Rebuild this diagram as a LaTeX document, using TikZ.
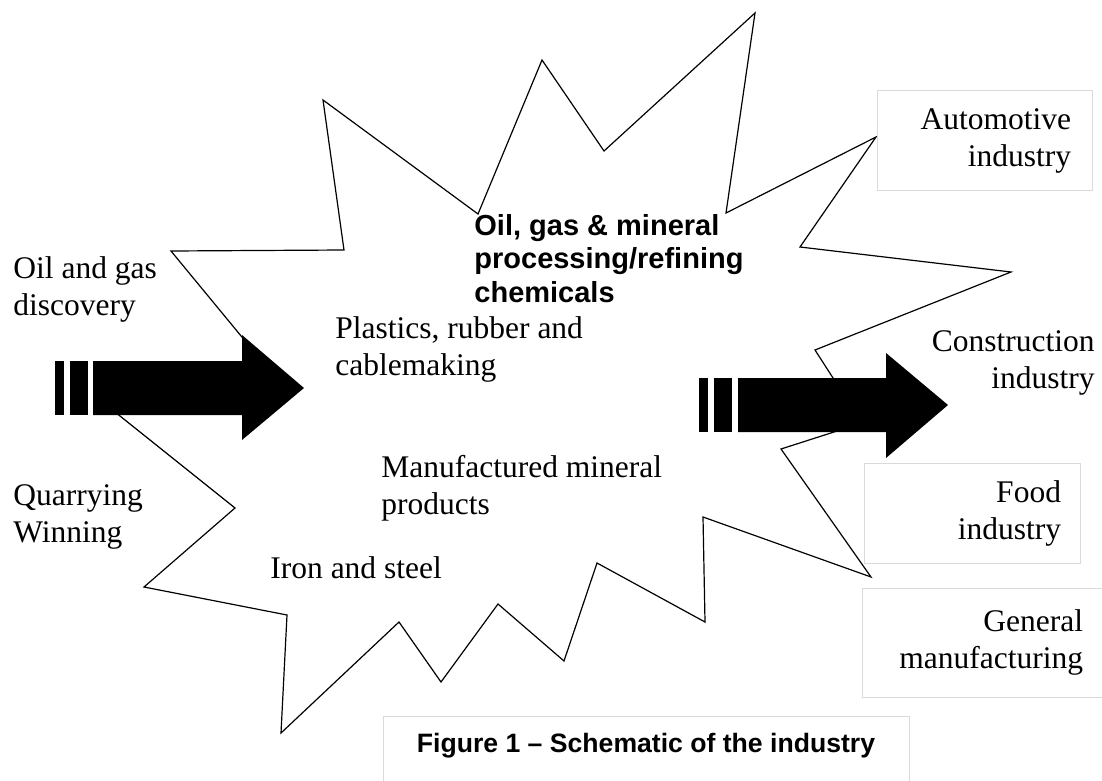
\documentclass[tikz,border=0pt]{standalone}
\usepackage{fontspec}
\setmainfont{Liberation Serif}
\newfontfamily\arialfont{Liberation Sans}
\usetikzlibrary{positioning}

\definecolor{boxgray}{HTML}{DADADA}

\tikzset{
  txt/.style={inner sep=0pt, anchor=base west, align=left,
    font=\fontsize{15.75}{18.5}\selectfont},
  boldtxt/.style={inner sep=0pt, anchor=base west, align=left,
    font=\arialfont\bfseries\fontsize{14.5}{16.75}\selectfont},
  indbox/.style={draw=boxgray, line width=0.5pt, inner ysep=0pt, align=right,
    font=\fontsize{15.75}{18.5}\selectfont},
  capbox/.style={draw=boxgray, line width=0.5pt, align=center, anchor=north,
    font=\arialfont\bfseries\fontsize{13.3}{16}\selectfont}
}

\begin{document}
\begin{tikzpicture}[x=0.5pt,y=-0.5pt]
\useasboundingbox (0,0) rectangle (1102,781);

% the burst
\draw[line width=0.6pt, line join=miter] (323,100) -- (478,214) -- (542,60) -- (604,151)
  -- (755,13) -- (726,213) -- (876,137) -- (800,247) -- (1011,272) -- (815,350)
  -- (862,423) -- (781,449) -- (871,577) -- (703,517) -- (705,622) -- (597,563)
  -- (564,661) -- (498,604) -- (441,682) -- (399,622) -- (281,733) -- (287,615)
  -- (144,587) -- (235,508) -- (100,400) -- (265,365) -- (171,251) -- (344,250) -- cycle;

% striped arrows
\fill (55,361) rectangle (64,415);
\fill (70,361) rectangle (88,415);
\fill (93,361) -- (242,361) -- (242,335) -- (304,388) -- (242,440) -- (242,415) -- (93,415) -- cycle;
\fill (699,378) rectangle (708,432);
\fill (714,378) rectangle (732,432);
\fill (738,378) -- (886,378) -- (886,353) -- (948,405) -- (886,458) -- (886,432) -- (738,432) -- cycle;

% inputs (base = last line)
\node[txt] (discovery) at (13,315) {Oil and gas\\discovery};
\node[txt] (quarrying) at (13,542) {Quarrying\\Winning};

% inside the burst
\node[boldtxt] (refining) at (474,302) {Oil, gas \& mineral\\processing/refining\\chemicals};
\node[txt] (plastics) at (335,375) {Plastics, rubber and\\cablemaking};
\node[txt] (mineral) at (381,514) {Manufactured mineral\\products};
\node[txt] (steel) at (270,578) {Iron and steel};

% outputs
\node[indbox, text width=86.5pt, inner xsep=10.5pt, minimum height=49.5pt] (automotive) at (984.5,140.5) {Automotive\\industry};
\node[txt, anchor=base east, align=right] (construction) at (1095,388) {Construction\\industry};
\node[indbox, text width=89pt, inner xsep=9.5pt, minimum height=50pt] (food) at (972,513) {Food\\industry};
\node[indbox, text width=98pt, inner xsep=12.5pt, minimum height=54.5pt] (general) at (985,642.5) {General\\manufacturing};

\node[capbox, minimum width=263pt, inner ysep=8.5pt, text depth=35pt] (caption) at (646,716) {Figure 1 – Schematic of the industry};
\end{tikzpicture}
\end{document}
